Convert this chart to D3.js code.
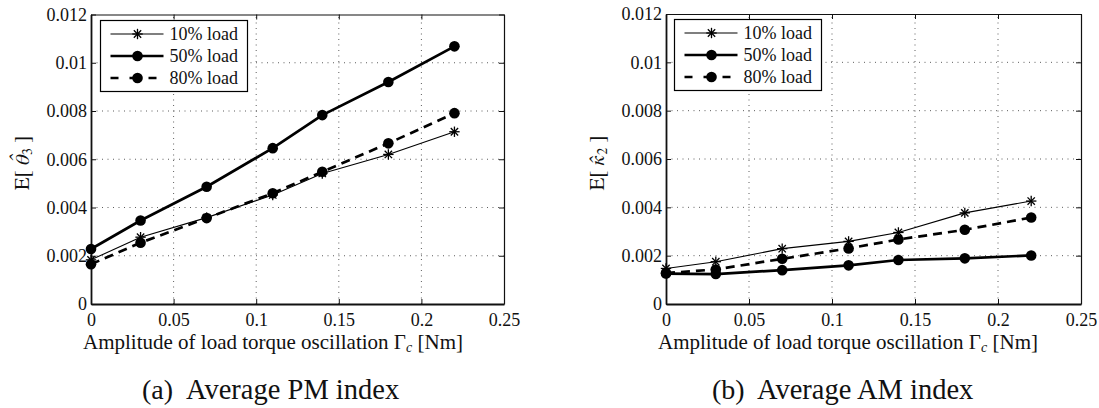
<!DOCTYPE html>
<html><head><meta charset="utf-8">
<script src="https://cdn.jsdelivr.net/npm/d3@7"></script>
</head>
<body style="margin:0;background:#fff"><svg id="c" width="1099" height="408" style="display:block"></svg>
<script>
// ---- data ----
const xValues = [0, 0.03, 0.07, 0.11, 0.14, 0.18, 0.22];
const seriesNames = ["10% load", "50% load", "80% load"];
const pm10 = [0.00183, 0.00277, 0.00358, 0.00452, 0.00541, 0.00620, 0.00714];
const pm50 = [0.00228, 0.00346, 0.00486, 0.00646, 0.00783, 0.00920, 0.01068];
const pm80 = [0.00165, 0.00254, 0.00356, 0.00459, 0.00548, 0.00666, 0.00791];
const am10 = [0.00147, 0.00175, 0.00229, 0.00259, 0.00296, 0.00377, 0.00426];
const am50 = [0.00126, 0.00124, 0.00140, 0.00160, 0.00182, 0.00189, 0.00201];
const am80 = [0.00128, 0.00143, 0.00187, 0.00230, 0.00267, 0.00307, 0.00358];
const xTicks = [0, 0.05, 0.1, 0.15, 0.2, 0.25];
const xTickLabels = ["0", "0.05", "0.1", "0.15", "0.2", "0.25"];
const yTicks = [0, 0.002, 0.004, 0.006, 0.008, 0.01, 0.012];
const yTickLabels = ["0", "0.002", "0.004", "0.006", "0.008", "0.01", "0.012"];
const captionTags = ["(a)", "(b)"];
const captionTexts = ["Average PM index", "Average AM index"];

const FONT = '"Liberation Serif"';
const HATFONT = '"FreeSerif"';
const svg = d3.select("#c");

const styles = [
  {w:1.1, dash:null, marker:"star"},
  {w:2.7, dash:null, marker:"circle"},
  {w:2.7, dash:"9,6", marker:"circle"}
];

function drawMarker(g, type, x, y){
  if(type==="circle"){
    g.append("circle").attr("cx",x).attr("cy",y).attr("r",5.3).attr("fill","#000");
  } else {
    const r=5.2;
    for(let k=0;k<4;k++){
      const a=k*Math.PI/4;
      g.append("line").attr("x1",x-r*Math.cos(a)).attr("y1",y-r*Math.sin(a))
        .attr("x2",x+r*Math.cos(a)).attr("y2",y+r*Math.sin(a))
        .attr("stroke","#000").attr("stroke-width",1.3);
    }
  }
}

function panel(opt){
  const {x0,x1,y0,y1,data,ylab,legend,cap} = opt;
  const x = d3.scaleLinear().domain([0,0.25]).range([x0,x1]);
  const y = d3.scaleLinear().domain([0,0.012]).range([y0,y1]);
  const g = svg.append("g");
  g.selectAll(".gx").data(xTicks.slice(1,-1)).join("line")
    .attr("x1",d=>x(d)).attr("x2",d=>x(d)).attr("y1",y0).attr("y2",y1)
    .attr("stroke","#333").attr("stroke-width",0.8).attr("stroke-dasharray","1,4.5");
  g.selectAll(".gy").data(yTicks.slice(1,-1)).join("line")
    .attr("y1",d=>y(d)).attr("y2",d=>y(d)).attr("x1",x0).attr("x2",x1)
    .attr("stroke","#333").attr("stroke-width",0.8).attr("stroke-dasharray","1,4.5");
  const ax = d3.axisBottom(x).tickValues(xTicks).tickFormat((d,i)=>xTickLabels[i]).tickSizeInner(-5).tickSizeOuter(0).tickPadding(9);
  const axT = d3.axisTop(x).tickValues(xTicks).tickFormat("").tickSizeInner(-5).tickSizeOuter(0);
  const ay = d3.axisLeft(y).tickValues(yTicks).tickFormat((d,i)=>yTickLabels[i]).tickSizeInner(-5).tickSizeOuter(0).tickPadding(4);
  const ayR = d3.axisRight(y).tickValues(yTicks).tickFormat("").tickSizeInner(-5).tickSizeOuter(0);
  const gb = g.append("g").attr("transform",`translate(0,${y0})`).call(ax);
  const gt = g.append("g").attr("transform",`translate(0,${y1})`).call(axT);
  const gl = g.append("g").attr("transform",`translate(${x0},0)`).call(ay);
  const gr = g.append("g").attr("transform",`translate(${x1},0)`).call(ayR);
  [gb,gt,gl,gr].forEach(a=>{
    a.attr("font-family",null).attr("font-size",null);
    a.selectAll("path").attr("stroke","#111").attr("stroke-width",1.2);
    a.selectAll("line").attr("stroke","#111").attr("stroke-width",1);
    a.selectAll("text").style("font-family",FONT).style("font-size","18px").attr("fill","#111");
  });
  gb.select("path").attr("stroke-width",1.8);
  gl.select("path").attr("stroke-width",1.8);
  const line = d3.line().x((d,i)=>x(xValues[i])).y(d=>y(d));
  data.forEach((vals,si)=>{
    const s=styles[si];
    g.append("path").datum(vals).attr("d",line).attr("fill","none")
      .attr("stroke","#000").attr("stroke-width",s.w)
      .attr("stroke-dasharray",s.dash).attr("stroke-linejoin","round");
  });
  data.forEach((vals,si)=>{
    const s=styles[si];
    vals.forEach((v,i)=>drawMarker(g,s.marker,x(xValues[i]),y(v)));
  });
  const lg = g.append("g");
  lg.append("rect").attr("x",legend.x).attr("y",legend.y).attr("width",147).attr("height",71)
    .attr("fill","#fff").attr("stroke","#000").attr("stroke-width",1.2);
  seriesNames.forEach((n,i)=>{
    const yy = legend.y+13.5+i*22;
    const s=styles[i];
    lg.append("line").attr("x1",legend.x+10).attr("x2",legend.x+63).attr("y1",yy).attr("y2",yy)
      .attr("stroke","#000").attr("stroke-width",s.w).attr("stroke-dasharray",s.dash?"8,11":null);
    drawMarker(lg,s.marker,legend.x+37,yy);
    lg.append("text").attr("x",legend.x+69).attr("y",yy+6).style("font-family",FONT)
      .style("font-size","18px").attr("fill","#111").text(n);
  });
  const xl = g.append("text").attr("x",x0-8).attr("y",349).attr("text-anchor","start")
    .style("font-size","21px").style("font-family",FONT).attr("fill","#111");
  xl.append("tspan").text("Amplitude of load torque oscillation Γ");
  xl.append("tspan").attr("font-style","italic").attr("dy",3).style("font-size","14px").text("c");
  xl.append("tspan").attr("dy",-3).text(" [Nm]");
  const yl = g.append("text").attr("transform",`translate(${ylab.x},${ylab.y}) rotate(-90)`)
    .attr("text-anchor","middle").style("font-size","21px").style("font-family",HATFONT).attr("fill","#111");
  yl.append("tspan").text("E[ ");
  yl.append("tspan").attr("font-style","italic").text(ylab.sym);
  yl.append("tspan").attr("dy",3).style("font-size","14px").text(ylab.sub);
  yl.append("tspan").attr("dy",-3).text(" ]");
  g.append("text").attr("x",cap.tx).attr("y",399).style("font-size","28px").style("font-family",FONT)
    .attr("fill","#111").text(cap.tag);
  g.append("text").attr("x",cap.x).attr("y",399).style("font-size","28.5px").style("font-family",FONT)
    .attr("fill","#111").text(cap.t);
}

panel({x0:91,x1:504,y0:304,y1:14.5,data:[pm10,pm50,pm80],
  ylab:{x:29,y:163,sym:"θ\u0302",sub:"3"},legend:{x:100.5,y:20.5},
  cap:{tx:142,x:186,tag:captionTags[0],t:captionTexts[0]}});
panel({x0:666,x1:1081,y0:304,y1:14,data:[am10,am50,am80],
  ylab:{x:604,y:163,sym:"κ\u0302",sub:"2"},legend:{x:674.5,y:19.5},
  cap:{tx:712,x:757,tag:captionTags[1],t:captionTexts[1]}});
</script></body></html>
